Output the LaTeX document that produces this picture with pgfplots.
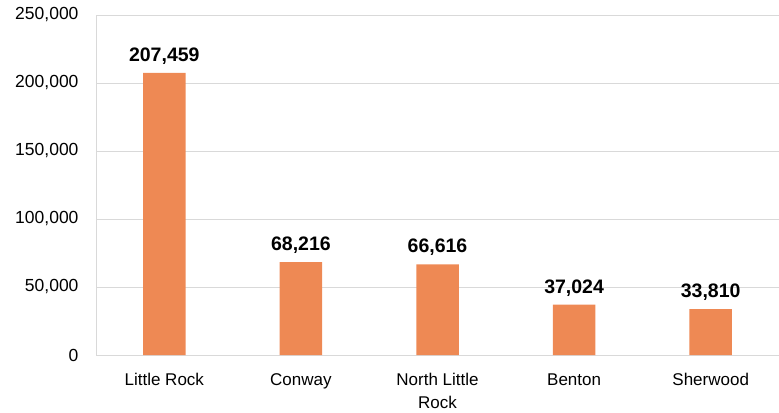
\documentclass[border=0pt]{standalone}
\usepackage{pgfplots}
\pgfplotsset{compat=1.18}
\usepackage{pgfplotstable}
\usepackage{fontspec}
\setmainfont{Liberation Sans}
\definecolor{barorange}{RGB}{238,137,84}
\definecolor{gridgray}{RGB}{217,217,217}
\pgfplotstableread{
x y lab
0 207459 {207,459}
1 68216 {68,216}
2 66616 {66,616}
3 37024 {37,024}
4 33810 {33,810}
}\datatable
\begin{document}
\begin{tikzpicture}
\begin{axis}[
  width=683bp, height=340bp, scale only axis,
  xmin=-0.5, xmax=4.5, ymin=0, ymax=250000,
  xtick={0,1,2,3,4},
  xticklabels={Little Rock, Conway, {North Little\\Rock}, Benton, Sherwood},
  xticklabel style={align=center, font=\fontsize{17bp}{23bp}\selectfont, yshift=-15bp},
  ytick={0,50000,100000,150000,200000,250000},
  yticklabel style={font=\fontsize{17.5bp}{20bp}\selectfont, xshift=-14bp},
  /pgf/number format/assume math mode=true,
  scaled y ticks=false,
  yticklabel={\pgfmathprintnumber[fixed,1000 sep={,}]{\tick}},
  major tick length=0pt,
  ymajorgrids, grid style={gridgray, line width=0.8bp},
  axis line style={draw=none},
  axis x line*=bottom, axis y line*=left,
  clip=false,
]
\draw[gridgray, line width=0.8bp] (rel axis cs:0,0) -- (rel axis cs:0,1);
\draw[gridgray, line width=0.8bp] (rel axis cs:0,0) -- (rel axis cs:1,0);
\addplot[ybar, bar width=42.5bp, fill=barorange, draw=none,
  point meta=explicit symbolic,
  nodes near coords,
  nodes near coords style={font=\bfseries\fontsize{19.5bp}{22bp}\selectfont, text=black, yshift=5bp}]
  table[x=x, y=y, meta=lab] {\datatable};
\coordinate (sw) at (rel axis cs:0,0);
\coordinate (ne) at (rel axis cs:1,1);
\end{axis}
\pgfresetboundingbox
\path ([shift={(-96bp,-57bp)}]sw) rectangle ([shift={(0bp,15bp)}]ne);
\end{tikzpicture}
\end{document}
